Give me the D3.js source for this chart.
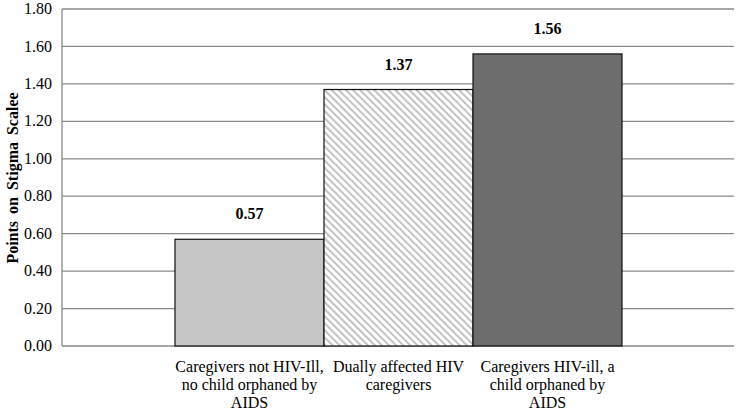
<!DOCTYPE html>
<html><head><meta charset="utf-8">
<script src="https://cdn.jsdelivr.net/npm/d3@7"></script>
</head><body style="margin:0;background:#fff">
<svg id="c" width="737" height="411" style="display:block"></svg>
<script>
const categories = ["c1","c2","c3"];
const categoryLines = [
  ["Caregivers not HIV-Ill,","no child orphaned by","AIDS"],
  ["Dually affected HIV","caregivers"],
  ["Caregivers HIV-ill, a","child orphaned by","AIDS"]
];
const values = [0.57, 1.37, 1.56];
const valueLabels = ["0.57","1.37","1.56"];
const yTicks = [0,0.2,0.4,0.6,0.8,1.0,1.2,1.4,1.6,1.8];
const yTitle = "Points on Stigma Scalee";
const fills = ["#c6c6c6","url(#hatch)","#6d6d6d"];

(function(){
const FF = "'Liberation Serif'";
const svg = d3.select("#c");
const defs = svg.append("defs");
const pat = defs.append("pattern").attr("id","hatch").attr("patternUnits","userSpaceOnUse")
  .attr("width",5).attr("height",5).attr("patternTransform","rotate(-45)");
pat.append("rect").attr("width",5).attr("height",5).attr("fill","#fff");
pat.append("rect").attr("x",0).attr("y",0).attr("width",1.8).attr("height",5).attr("fill","#bdbdbd");

const pL = 62, pR = 734, pT = 9, pB = 346;
const y = d3.scaleLinear().domain([0,1.8]).range([pB, pT]);
const x = d3.scaleBand().domain(categories).range([175, 622]).padding(0);

svg.append("g").selectAll("line").data(yTicks).join("line")
  .attr("x1",pL).attr("x2",pR).attr("y1",d=>y(d)).attr("y2",d=>y(d))
  .attr("stroke","#8a8a8a").attr("stroke-width",1.3);

y.ticks(9).forEach(()=>{});
// y tick labels
svg.append("path").attr("d",`M${pL},${pT}V${pB}`).attr("stroke","#8a8a8a").attr("stroke-width",1.3);
yTicks.forEach(v=>{
  svg.append("text").attr("x",pL-10).attr("y",y(v)).attr("dy","0.32em").attr("text-anchor","end")
    .style("font-family",FF).style("font-size","16px").attr("fill","#000").text(d3.format(".2f")(v));
});

svg.append("g").selectAll("rect").data(values).join("rect")
  .attr("x",(d,i)=>x(categories[i])).attr("width",x.bandwidth())
  .attr("y",d=>y(d)).attr("height",d=>pB-y(d))
  .attr("fill",(d,i)=>fills[i]).attr("stroke","#111").attr("stroke-width",1.2);

values.forEach((d,i)=>{
  svg.append("text").attr("x",x(categories[i])+x.bandwidth()/2).attr("y",y(d)-20)
    .attr("text-anchor","middle").style("font-family",FF).style("font-size","16px").style("font-weight","bold")
    .text(valueLabels[i]);
});

categoryLines.forEach((lines,i)=>{
  lines.forEach((ln,j)=>{
    svg.append("text").attr("text-anchor","middle").style("font-family",FF).style("font-size","16px").attr("fill","#000")
      .attr("x",x(categories[i])+x.bandwidth()/2).attr("y",372+j*18).text(ln);
  });
});

svg.append("text").attr("transform","translate(18,178) rotate(-90)").attr("text-anchor","middle")
  .style("font-family",FF).style("font-size","16px").style("font-weight","bold").style("word-spacing","3px").text(yTitle);
})();
</script>
</body></html>
